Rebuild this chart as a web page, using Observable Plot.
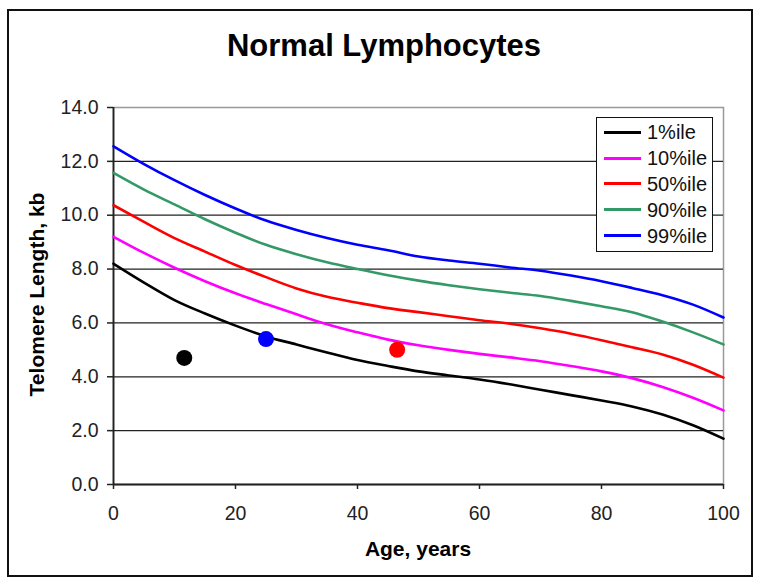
<!DOCTYPE html>
<html>
<head>
<meta charset="utf-8">
<script src="https://cdn.jsdelivr.net/npm/d3@7"></script>
<script src="https://cdn.jsdelivr.net/npm/@observablehq/plot@0.6"></script>
<style>
  body { margin: 0; background: #fff; font-family: "Liberation Sans", Arial, sans-serif; }
  #wrap { position: relative; width: 764px; height: 586px; overflow: hidden; }
  #border { position: absolute; left: 7px; top: 9px; width: 746px; height: 568px; border: 2px solid #111; box-sizing: border-box; }
  #chart { position: absolute; left: 0; top: 0; }
  #title { position: absolute; left: 2px; top: 30px; width: 764px; text-align: center; font-weight: bold; font-size: 31px; line-height: 31px; color: #000; }
  #ylabel { position: absolute; left: -114px; top: 284px; width: 300px; height: 21px; line-height: 21px; text-align: center; font-weight: bold; font-size: 21px; color: #000; transform: rotate(-90deg); transform-origin: 50% 50%; }
  #xlabel { position: absolute; left: 268px; top: 538px; width: 300px; text-align: center; font-weight: bold; font-size: 21px; line-height: 22px; color: #000; }
  #legend { position: absolute; left: 596px; top: 117px; width: 117px; height: 135px; border: 1.5px solid #111; box-sizing: border-box; background: #fff; padding-top: 1.5px; }
  .row { height: 25.8px; display: flex; align-items: center; }
  .sw { width: 37px; height: 3px; margin-left: 7px; margin-right: 6px; }
  .lab { font-size: 20px; color: #111; line-height: 20px; }
</style>
</head>
<body>
<div id="wrap">
  <div id="border"></div>
  <div id="chart"></div>
  <div id="title">Normal Lymphocytes</div>
  <div id="ylabel">Telomere Length, kb</div>
  <div id="xlabel">Age, years</div>
  <div id="legend"></div>
</div>
<script>
const ages = [0, 5, 10, 15, 20, 25, 30, 35, 40, 45, 50, 55, 60, 65, 70, 75, 80, 85, 90, 95, 100];
const p1  = [8.2, 7.5, 6.85, 6.35, 5.9, 5.5, 5.2, 4.9, 4.62, 4.4, 4.2, 4.05, 3.9, 3.72, 3.52, 3.32, 3.12, 2.9, 2.6, 2.2, 1.7];
const p10 = [9.2, 8.6, 8.05, 7.55, 7.1, 6.7, 6.32, 5.95, 5.65, 5.38, 5.17, 5.0, 4.85, 4.72, 4.58, 4.4, 4.2, 3.95, 3.62, 3.22, 2.75];
const p50 = [10.37, 9.75, 9.15, 8.65, 8.15, 7.7, 7.28, 6.97, 6.75, 6.55, 6.4, 6.25, 6.1, 5.97, 5.8, 5.6, 5.36, 5.1, 4.83, 4.45, 3.97];
const p90 = [11.57, 10.95, 10.4, 9.85, 9.35, 8.9, 8.55, 8.25, 8.0, 7.77, 7.57, 7.4, 7.25, 7.12, 7.0, 6.82, 6.62, 6.4, 6.05, 5.65, 5.2];
const p99 = [12.56, 11.9, 11.3, 10.75, 10.25, 9.8, 9.45, 9.15, 8.9, 8.7, 8.47, 8.32, 8.2, 8.06, 7.94, 7.76, 7.55, 7.3, 7.03, 6.68, 6.2];
const seriesNames = ["1%ile", "10%ile", "50%ile", "90%ile", "99%ile"];
const seriesColors = ["#000000", "#ff00ff", "#ff0000", "#339966", "#0000ff"];
const pointAges = [11.6, 25.0, 46.5];
const pointValues = [4.7, 5.4, 5.0];
const pointColors = ["#000000", "#0000ff", "#ff0000"];
const xTicks = [0, 20, 40, 60, 80, 100];
const yTicks = [0, 2, 4, 6, 8, 10, 12, 14];

const seriesValues = [p1, p10, p50, p90, p99];
const lineData = seriesNames.flatMap((s, i) => ages.map((a, j) => ({age: a, value: seriesValues[i][j], series: s})));

const chart = Plot.plot({
  width: 764,
  height: 586,
  marginTop: 107,
  marginBottom: 102,
  marginLeft: 113,
  marginRight: 41,
  x: {domain: [0, 100]},
  y: {domain: [0, 14]},
  color: {domain: seriesNames, range: seriesColors},
  style: {fontFamily: "'Liberation Sans', Arial, sans-serif", fontSize: "19px", color: "#222", background: "transparent", overflow: "visible"},
  marks: [
    Plot.frame({stroke: "#999", strokeWidth: 1.5}),
    Plot.gridY(yTicks.filter(d => d > 0 && d < 14), {stroke: "#222", strokeOpacity: 1, strokeWidth: 1.2}),
    Plot.axisY(yTicks, {tickSize: 6, tickPadding: 9, tickFormat: d => d.toFixed(1), label: null, fontSize: 19.5, stroke: "#222", strokeWidth: 1.5}),
    Plot.axisX(xTicks, {tickSize: 5, tickPadding: 17, label: null, fontSize: 19.5, stroke: "#222", strokeWidth: 1.5}),
    Plot.ruleX([0], {stroke: "#222", strokeWidth: 1.8}),
    Plot.ruleY([0], {stroke: "#222", strokeWidth: 1.8}),
    Plot.line(lineData, {x: "age", y: "value", stroke: "series", z: "series", strokeWidth: 2.6, curve: "monotone-x"}),
    ...pointColors.map((c, i) => Plot.dot([i], {x: k => pointAges[k], y: k => pointValues[k], fill: c, r: 8}))
  ]
});
document.getElementById("chart").appendChild(chart);

const legend = document.getElementById("legend");
seriesNames.forEach((s, i) => {
  const row = document.createElement("div");
  row.className = "row";
  const sw = document.createElement("div");
  sw.className = "sw";
  sw.style.background = seriesColors[i];
  const lab = document.createElement("span");
  lab.className = "lab";
  lab.textContent = s;
  row.appendChild(sw);
  row.appendChild(lab);
  legend.appendChild(row);
});
</script>
</body>
</html>
